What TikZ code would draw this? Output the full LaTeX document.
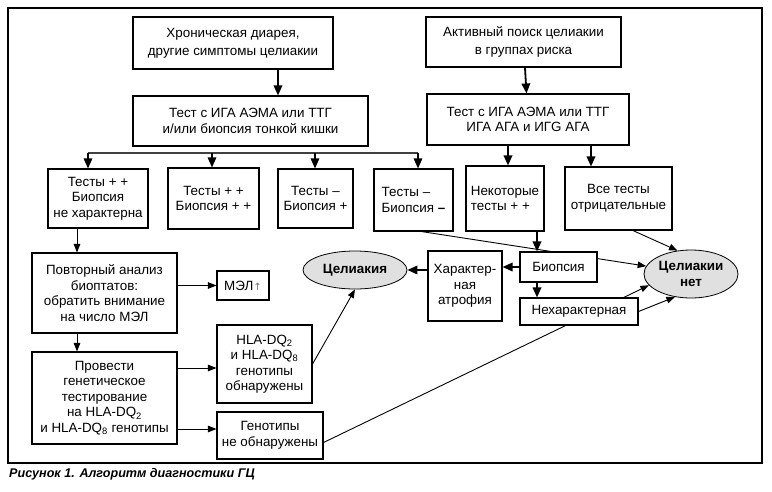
\documentclass[tikz,border=0pt]{standalone}
\usepackage{fontspec}
\setmainfont{Liberation Sans}
\newfontfamily\symfont{DejaVu Sans}
\usetikzlibrary{arrows.meta,shapes.geometric,backgrounds}
\begin{document}
\begin{tikzpicture}[x=1pt,y=-1pt,
  box/.style={draw, line width=1.1pt, fill=white, align=center, inner sep=0pt,
    font=\fontsize{13.4}{15.5}\selectfont},
  wide/.style={font=\fontsize{13.4}{18}\selectfont},
  oval/.style={ellipse, draw, fill=black!12, line width=0.8pt, inner sep=0pt,
    align=center, font=\bfseries\fontsize{13.4}{15.5}\selectfont},
  tk/.style={line width=1.8pt, -{Triangle[length=10pt,width=8.5pt]}},
  tn/.style={line width=0.9pt, -{Triangle[length=8.5pt,width=6.5pt]}},
  ln/.style={line width=0.9pt}]
\useasboundingbox (0,0) rectangle (772,491);
\draw[line width=1.3pt] (8,8) rectangle (762,463);

% top row
\node[box, wide, minimum width=200pt, minimum height=52pt] (b1) at (233,43)
  {Хроническая диарея,\\другие симптомы целиакии};
\node[box, minimum width=235pt, minimum height=50pt] (b2) at (250.5,121)
  {Тест с ИГА АЭМА или ТТГ\\и/или биопсия тонкой кишки};
\node[box, wide, minimum width=195pt, minimum height=50pt] (b3) at (523.5,42)
  {Активный поиск целиакии\\в группах риска};
\node[box, minimum width=202pt, minimum height=51pt] (b4) at (528,119.5)
  {Тест с ИГА АЭМА или ТТГ\\ИГА АГА и ИГG АГА};

% third row
\node[box, minimum width=100pt, minimum height=59pt] (r1) at (98,198.5)
  {Тесты + +\\Биопсия\\не характерна};
\node[box, minimum width=91pt, minimum height=61pt] (r2) at (213.5,198.5)
  {Тесты + +\\Биопсия + +};
\node[box, minimum width=75pt, minimum height=59pt] (r3) at (315.5,198.5)
  {Тесты –\\Биопсия +};
\node[box, align=left, minimum width=79pt, minimum height=62pt] (r4) at (413.5,200)
  {Тесты –\\Биопсия \textbf{–}};
\node[box, align=left, minimum width=78pt, minimum height=65pt] (r5) at (505,198.5)
  {Некоторые\\тесты + +};
\node[box, minimum width=107pt, minimum height=63pt] (r6) at (618.5,198.5)
  {Все тесты\\отрицательные};

% middle
\node[box, minimum width=145pt, minimum height=80pt] (pov) at (104.5,293)
  {Повторный анализ\\биоптатов:\\обратить внимание\\на число МЭЛ};
\node[box, minimum width=52pt, minimum height=29pt] (mel) at (243,285.5)
  {МЭЛ{\symfont\fontsize{10}{10}\selectfont\color{black!55}↑}};
\node[oval, minimum width=104pt, minimum height=38pt] (cel) at (355,270) {Целиакия};
\node[box, minimum width=74pt, minimum height=70pt] (har) at (465,286)
  {Характер-\\ная\\атрофия};
\node[box, minimum width=77pt, minimum height=30pt] (bio) at (558.5,267) {Биопсия};
\node[box, minimum width=118pt, minimum height=27pt] (neh) at (579,311.5) {Нехарактерная};
\node[oval, minimum width=94pt, minimum height=48pt] (net) at (691,274) {Целиакии\\нет};

% bottom
\node[box, minimum width=145pt, minimum height=92pt] (gen) at (104.5,398)
  {Провести\\генетическое\\тестирование\\на HLA-DQ\textsubscript{2}\\и HLA-DQ\textsubscript{8} генотипы};
\node[box, minimum width=95pt, minimum height=78pt] (hla) at (264.5,364)
  {HLA-DQ\textsubscript{2}\\и HLA-DQ\textsubscript{8}\\генотипы\\обнаружены};
\node[box, minimum width=106pt, minimum height=47pt] (nog) at (270,435.5)
  {Генотипы\\не обнаружены};

\node[anchor=west, inner sep=0pt, font=\bfseries\itshape\fontsize{12.6}{15}\selectfont]
  (cap) at (9,474) {Рисунок 1. Алгоритм диагностики ГЦ};

% connectors
\draw[tk] (b1.south -| 278,0) -- (b2.north -| 278,0);
\draw[tk] (b3) -- (b4);
\coordinate (brL) at (88,153);
\coordinate (brR) at (418,153);
\coordinate (br2) at (212,153);
\coordinate (br3) at (315,153);
\draw[line width=1.4pt, black!75] (brL) -- (brR);
\draw[tk, line width=1.5pt] (brL) -- (brL |- r1.north);
\draw[tk, line width=1.5pt] (br2) -- (br2 |- r2.north);
\draw[tk, line width=1.5pt] (br3) -- (br3 |- r3.north);
\draw[tk, line width=1.5pt] (brR) -- (brR |- r4.north);
\coordinate (x4) at (508,0);
\coordinate (x6) at (591,0);
\draw[tk] (b4.south -| x4) -- (r5.north -| x4);
\draw[tk] (b4.south -| x6) -- (r6.north -| x6);

\coordinate (xl) at (77,0);
\draw[tn] (r1.south -| xl) -- (pov.north -| xl);
\draw[tn] (pov.south -| xl) -- (gen.north -| xl);
\draw[tn] (pov.east |- mel.west) -- (mel.west);
\coordinate (yh) at (0,368);
\coordinate (yn) at (0,429);
\draw[tn] (gen.east |- yh) -- (hla.west |- yh);
\draw[tn] (gen.east |- yn) -- (nog.west |- yn);
\draw[tn] (hla.east) -- (cel.south);

\coordinate (xb) at (537,0);
\draw[tk] (r5.south -| xb) -- (bio.north -| xb);
\draw[tk] (bio.south -| xb) -- (neh.north -| xb);
\draw[tk] (bio.west) -- (bio.west -| har.east);
\draw[tk] (cel.east -| har.west) -- (cel.east);
\draw[tn] (r6.south -| 633,0) -- (net.120);
\draw[tn] (neh.east) -- (net.235);

\begin{pgfonlayer}{background}
\draw[tn] ([xshift=8pt]r4.south) -- (net.170);
\draw[tn] ([yshift=-7pt]nog.east) -- (net.195);
\end{pgfonlayer}
\end{tikzpicture}
\end{document}
